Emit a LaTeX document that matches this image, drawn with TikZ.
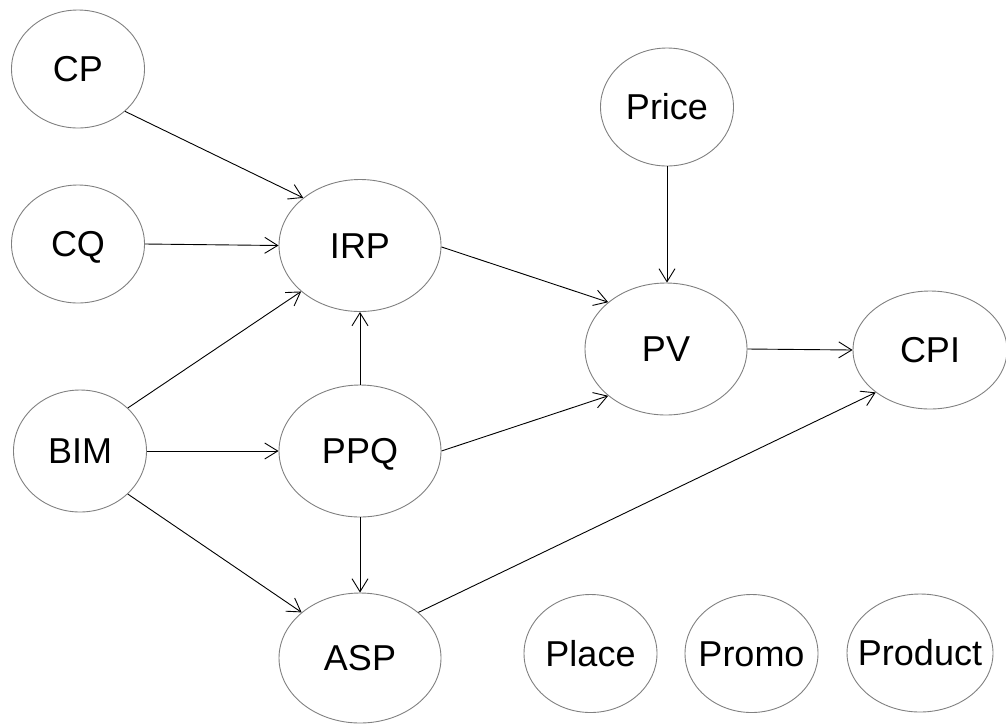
\documentclass[tikz,border=0pt]{standalone}
\usepackage{fontspec}
\setmainfont{Liberation Sans}
\usetikzlibrary{shapes.geometric,arrows.meta}
\definecolor{bord}{RGB}{128,128,128}
\begin{document}
\begin{tikzpicture}[x=1pt,y=-1pt,
  ell/.style={ellipse, draw=bord, line width=0.9pt, inner sep=0pt,
    font=\fontsize{36}{40}\selectfont, text height=25.8pt, text depth=0pt},
  sm/.style={ell, minimum width=133pt, minimum height=118pt},
  lg/.style={ell, minimum width=162pt, minimum height=132pt},
  arr/.style={draw=black, line width=0.9pt, -{Straight Barb[length=13pt,width=16pt]}}]
\useasboundingbox (0,0) rectangle (1006,724);
\node[sm] (CP) at (78,69) {\makebox[0pt]{CP}};
\node[sm] (CQ) at (78,244) {\makebox[0pt]{CQ}};
\node[sm, minimum height=122pt] (BIM) at (80,451) {\makebox[0pt]{BIM}};
\node[lg] (IRP) at (360,245.5) {\makebox[0pt]{IRP}};
\node[lg] (PPQ) at (360,451) {\makebox[0pt]{PPQ}};
\node[lg, minimum height=130pt] (ASP) at (360,658) {\makebox[0pt]{ASP}};
\node[sm] (Price) at (667,107) {\makebox[0pt]{Price}};
\node[lg] (PV) at (666,349) {\makebox[0pt]{PV}};
\node[ell, minimum width=154pt, minimum height=118pt] (CPI) at (930,350) {\makebox[0pt]{CPI}};
\node[sm] (Place) at (590.5,653.5) {\makebox[0pt]{Place}};
\node[sm] (Promo) at (751.5,653.5) {\makebox[0pt]{Promo}};
\node[ell, minimum width=146pt, minimum height=118pt] (Product) at (920,653) {\makebox[0pt]{Product}};

\draw[arr] (CP.-42.5) -- (IRP.140);
\draw[arr] (CQ.east) -- (IRP.west);
\draw[arr] (BIM.42.5) -- (IRP.218.7);
\draw[arr] (BIM.east) -- (PPQ.west);
\draw[arr] (BIM.-42.5) -- (ASP.142.2);
\draw[arr] (PPQ.north) -- (IRP.south);
\draw[arr] (PPQ.south) -- (ASP.north);
\draw[arr] (IRP.-1) -- (PV.141);
\draw[arr] (PPQ.east) -- (PV.219.6);
\draw[arr] (Price.south) -- (Price.south |- PV.north);
\draw[arr] (PV.east) -- (CPI.west);
\draw[arr] (ASP.38.3) -- (CPI.218);
\end{tikzpicture}
\end{document}
